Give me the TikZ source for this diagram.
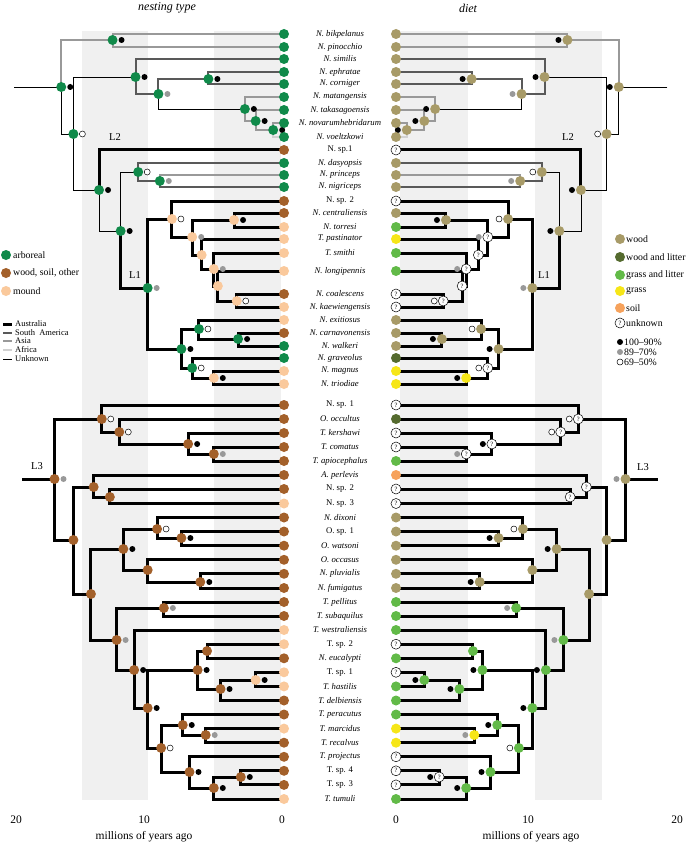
\documentclass[tikz,border=0pt]{standalone}
\usepackage{fontspec}
\setmainfont{Liberation Serif}
\definecolor{arb}{RGB}{16,138,74}
\definecolor{wso}{RGB}{163,96,42}
\definecolor{mnd}{RGB}{250,201,156}
\definecolor{wood}{RGB}{168,155,104}
\definecolor{wl}{RGB}{85,107,47}
\definecolor{gl}{RGB}{98,186,72}
\definecolor{grass}{RGB}{246,230,24}
\definecolor{soil}{RGB}{246,162,92}
\definecolor{band}{RGB}{240,240,240}

% internal nodes: name/time/y/nesting/diet/support
\def\inner{A/16.5/87/arb/wood/b, B/12.7/40/arb/wood/b, C/15.6/134/arb/wood/w,
  D/11.0/77/arb/wood/b, G/9.3/94/arb/wood/g, H/5.6/79/arb/wood/b,
  I/2.9/109/arb/wood/b, J/2.1/121/arb/wood/b, K/0.8/130/arb/wood/b,
  F/13.7/190/arb/wood/b, L/12.1/231/arb/wood/b, M/10.8/172/arb/wood/w,
  N/9.2/181/arb/wood/g, O/10.1/288/arb/wood/g, P/8.3/219/mnd/wood/w,
  R/6.8/237/mnd/unk/g, S/3.7/220/mnd/wood/b, T/6.1/255/mnd/unk/n,
  U/5.2/269/mnd/unk/g, V/4.9/286/mnd/unk/n, W/3.5/301/mnd/unk/w,
  Q/7.6/349/arb/wood/b, X/6.3/329/arb/wood/w, Y/3.4/339/arb/wood/b,
  Z/6.8/368/arb/unk/w, ZA/5.2/378/mnd/grass/b,
  L3/17.0/479/wso/wood/g, AA/13.5/419/wso/unk/w, BB/12.2/432/wso/unk/w,
  CC/7.1/444/wso/unk/b, DD/5.2/454/wso/unk/g, EE/15.6/540/wso/wood/n,
  FF/14.1/487/wso/unk/n, HH/12.9/497/wso/unk/n, GG/14.3/594/wso/wood/n,
  II/11.9/549/wso/wood/b, KK/9.4/529/wso/wood/w, MM/7.6/538/wso/wood/b,
  LL/10.1/570/wso/wood/n, NN/6.2/582/wso/wood/b, JJ/12.4/640/wso/gl/g,
  OO/8.9/608/wso/gl/g, PP/11.1/670/wso/gl/b, QQ/10.1/708/wso/gl/b,
  RR/6.4/670/wso/gl/b, TT/5.7/651/wso/gl/n, UU/4.7/689/wso/gl/b,
  VV/2.1/680/mnd/gl/b, WW/9.1/748/wso/gl/w, XX/7.5/725/wso/gl/b,
  ZZ/5.8/735/wso/grass/g, YY/7.0/772/wso/gl/b, AB/5.2/788/wso/gl/b,
  AC/3.2/777/wso/unk/b}

% tips: number/y/nesting/diet/name
\def\tips{1/34/arb/wood/N. bikpelanus, 2/47/arb/wood/N. pinocchio,
  3/59/arb/wood/N. similis, 4/72/arb/wood/N. ephratae,
  5/84/arb/wood/N. corniger, 6/97/arb/wood/N. matangensis,
  7/110/arb/wood/N. takasagoensis, 8/123/arb/wood/N. novarumhebridarum,
  9/137/arb/wood/N. voeltzkowi, 10/150/wso/unk/{\upshape N. sp.1},
  11/163/arb/wood/N. dasyopsis, 12/175/arb/wood/N. princeps,
  13/187/arb/wood/N. nigriceps, 14/201/wso/unk/{\upshape N. sp. 2},
  15/213/wso/wood/N. centraliensis, 16/227/mnd/gl/N. torresi,
  17/239/mnd/grass/T. pastinator, 18/253/mnd/gl/T. smithi,
  19/271/mnd/gl/N. longipennis, 20/294/wso/unk/N. coalescens,
  21/307/mnd/unk/N. kaewiengensis, 22/320/mnd/wood/N. exitiosus,
  23/333/wso/wood/N. carnavonensis, 24/346/arb/wood/N. walkeri,
  25/358/arb/wl/N. graveolus, 26/371/mnd/grass/N. magnus,
  27/384/mnd/grass/N. triodiae, 28/405/wso/unk/{\upshape N. sp. 1},
  29/419/wso/wl/O. occultus, 30/433/wso/unk/T. kershawi,
  31/447/wso/unk/T. comatus, 32/461/wso/gl/T. apiocephalus,
  33/475/wso/soil/A. perlevis, 34/489/wso/unk/{\upshape N. sp. 2},
  35/503.5/mnd/unk/{\upshape N. sp. 3}, 36/517.5/wso/wood/N. dixoni,
  37/531.5/wso/wood/{\upshape O. sp. 1}, 38/545.7/wso/wood/O. watsoni,
  39/559.8/wso/wood/O. occasus, 40/573.8/wso/wood/N. pluvialis,
  41/588/wso/wood/N. fumigatus, 42/602/wso/gl/T. pellitus,
  43/616/wso/gl/T. subaquilus, 44/630/mnd/gl/T. westraliensis,
  45/644.2/mnd/unk/{\upshape T. sp. 2}, 46/658.3/wso/gl/N. eucalypti,
  47/672.3/mnd/unk/{\upshape T. sp. 1}, 48/686.4/mnd/gl/T. hastilis,
  49/700.5/wso/gl/T. delbiensis, 50/714.5/wso/gl/T. peracutus,
  51/728.6/mnd/grass/T. marcidus, 52/742.7/wso/grass/T. recalvus,
  53/756.8/wso/unk/T. projectus, 54/770.8/wso/unk/{\upshape T. sp. 4},
  55/784.9/wso/unk/{\upshape T. sp. 3}, 56/799/mnd/gl/T. tumuli}

% branches: parent/child/region
\def\edges{A/B/asia, B/t1/asia, B/t2/asia, A/C/unk, C/D/unk, D/t3/sam,
  D/G/sam, G/H/sam, H/t4/sam, H/t5/sam, G/I/unk, I/t6/asia, I/J/asia,
  J/t7/asia, J/K/asia, K/t8/asia, K/t9/afr, C/F/unk, F/t10/aus, F/L/unk,
  L/M/unk, M/t11/sam, M/N/sam, N/t12/asia, N/t13/sam, L/O/aus, O/P/aus,
  P/t14/aus, P/R/aus, R/S/aus, S/t15/aus, S/t16/aus, R/T/aus, T/t17/aus,
  T/U/aus, U/t18/aus, U/V/aus, V/t19/aus, V/W/aus, W/t20/aus, W/t21/aus,
  O/Q/aus, Q/X/aus, X/t22/aus, X/Y/aus, Y/t23/aus, Y/t24/aus, Q/Z/aus,
  Z/t25/aus, Z/ZA/aus, ZA/t26/aus, ZA/t27/aus,
  L3/AA/aus, AA/t28/aus, AA/BB/aus, BB/t29/aus, BB/CC/aus, CC/t30/aus,
  CC/DD/aus, DD/t31/aus, DD/t32/aus, L3/EE/aus, EE/FF/aus, FF/t33/aus,
  FF/HH/aus, HH/t34/aus, HH/t35/aus, EE/GG/aus, GG/II/aus, II/KK/aus,
  KK/t36/aus, KK/MM/aus, MM/t37/aus, MM/t38/aus, II/LL/aus, LL/t39/aus,
  LL/NN/aus, NN/t40/aus, NN/t41/aus, GG/JJ/aus, JJ/OO/aus, OO/t42/aus,
  OO/t43/aus, JJ/PP/aus, PP/t44/aus, PP/QQ/aus, QQ/RR/aus, RR/TT/aus,
  TT/t45/aus, TT/t46/aus, RR/UU/aus, UU/VV/aus, VV/t47/aus, VV/t48/aus,
  UU/t49/aus, QQ/WW/aus, WW/XX/aus, XX/t50/aus, XX/ZZ/aus, ZZ/t51/aus,
  ZZ/t52/aus, WW/YY/aus, YY/t53/aus, YY/AB/aus, AB/AC/aus, AC/t54/aus,
  AC/t55/aus, AB/t56/aus}

\begin{document}
\begin{tikzpicture}[x=1pt,y=-1pt,
    mk/.style={circle,inner sep=0pt,minimum size=10pt},
    sdot/.style={circle,inner sep=0pt,minimum size=6pt},
    st-arb/.style={fill=arb}, st-wso/.style={fill=wso}, st-mnd/.style={fill=mnd},
    st-wood/.style={fill=wood}, st-wl/.style={fill=wl}, st-gl/.style={fill=gl},
    st-grass/.style={fill=grass}, st-soil/.style={fill=soil},
    st-unk/.style={fill=white,draw=black,line width=.5pt,label={[qmark]center:?}},
    qmark/.style={inner sep=0pt,font=\fontsize{6.5}{6.5}\selectfont},
    sup-b/.style={fill=black}, sup-g/.style={fill=black!40},
    sup-w/.style={fill=white,draw=black,line width=.5pt},
    br-aus/.style={line width=3pt},
    br-sam/.style={line width=2pt,black!65},
    br-asia/.style={line width=2pt,black!40},
    br-afr/.style={line width=2pt,black!18},
    br-unk/.style={line width=.9pt},
    tiplab/.style={font=\fontsize{8.7}{9}\selectfont\itshape,inner sep=0pt},
    leg/.style={anchor=west,font=\fontsize{9.8}{10}\selectfont,inner sep=1pt},
    regleg/.style={anchor=west,font=\fontsize{8.5}{8.5}\selectfont,inner sep=0pt},
    axlab/.style={font=\fontsize{11.5}{12}\selectfont}]
\useasboundingbox (0,0) rectangle (689,845);
\fill[white] (0,0) rectangle (689,845);
\foreach \a/\b in {82/148, 214/281, 400/468, 535/602}
    \fill[band] (\a,31) rectangle (\b,800);

\foreach \nm/\tm/\y/\ls/\rs/\su in \inner
{
    \coordinate (l\nm) at ({284-13.5*\tm},\y);
    \coordinate (r\nm) at ({396+13.5*\tm},\y);
}
\foreach \i/\y/\ls/\rs/\lab in \tips
{
    \coordinate (lt\i) at (284,\y);
    \coordinate (rt\i) at (396,\y);
}
\coordinate (lrootA) at ({284-13.5*20},87);
\coordinate (rrootA) at ({396+13.5*20.1},87);
\coordinate (lrootL3) at ({284-13.5*19.4},479);
\coordinate (rrootL3) at ({396+13.5*19.4},479);

\draw[br-unk] (lrootA)--(lA) (rrootA)--(rA);
\draw[br-aus] (lrootL3)--(lL3) (rrootL3)--(rL3);
\foreach \p/\c/\reg in \edges
{
    \draw[br-\reg] (l\p) |- (l\c);
    \draw[br-\reg] (r\p) |- (r\c);
}

\foreach \nm/\tm/\y/\ls/\rs/\su in \inner
{
    \if n\su\else
        \node[sdot,sup-\su] (sl\nm) at ([xshift=9pt]l\nm) {};
        \node[sdot,sup-\su] (sr\nm) at ([xshift=-9pt]r\nm) {};
    \fi
    \node[mk,st-\ls] (ml\nm) at (l\nm) {};
    \node[mk,st-\rs] (mr\nm) at (r\nm) {};
}
\foreach \i/\y/\ls/\rs/\lab in \tips
{
    \node[mk,st-\ls] (tl\i) at (lt\i) {};
    \node[mk,st-\rs] (tr\i) at (rt\i) {};
    \node[tiplab] (lab\i) at (340,\y) {\lab};
}

\node[font=\fontsize{12}{13}\selectfont\itshape] (headl) at (167,8) {nesting type};
\node[font=\fontsize{12}{13}\selectfont\itshape] (headr) at (468,8) {diet};
\foreach \nm/\x/\y in {L2/115/137, L1/135/275, L3/37/466}
    \node[font=\fontsize{10.5}{11}\selectfont] (cl\nm) at (\x,\y) {\nm};
\foreach \nm/\x/\y in {L2/568/137, L1/544/275, L3/643/467}
    \node[font=\fontsize{10.5}{11}\selectfont] (cr\nm) at (\x,\y) {\nm};

\foreach \s/\y/\txt in {arb/255/arboreal, wso/273/{wood, soil, other}, mnd/291/mound}
{
    \node[mk,st-\s] (kl\s) at (6,\y) {};
    \node[leg] (tkl\s) at (12,\y) {\txt};
}
\foreach \r/\y/\txt in {aus/324/Australia, sam/333/South\ \ America, asia/341/Asia, afr/350/Africa, unk/359/Unknown}
{
    \coordinate (gl\r) at (3,\y);
    \coordinate (gr\r) at (12,\y);
    \draw[br-\r] (gl\r)--(gr\r);
    \node[regleg] (tg\r) at (15,\y) {\txt};
}
\foreach \s/\y/\txt in {wood/239/wood, wl/257/wood and litter, gl/275/grass and litter,
    grass/291/grass, soil/308/soil, unk/323/unknown}
{
    \node[mk,st-\s] (kr\s) at (620,\y) {};
    \node[leg] (tkr\s) at (625,\y) {\txt};
}
\foreach \s/\y/\txt in {b/342/100--90\%, g/352/89--70\%, w/362/69--50\%}
{
    \node[sdot,sup-\s] (ks\s) at (620,\y) {};
    \node[leg] (tks\s) at (623,\y) {\txt};
}

\foreach \x/\v in {16/20, 144/10, 282/0, 396/0, 528/10, 677/20}
    \node[axlab] (ax\x) at (\x,820) {\v};
\node[axlab] (myl) at (144,837) {millions of years ago};
\node[axlab] (myr) at (531,837) {millions of years ago};
\end{tikzpicture}
\end{document}
